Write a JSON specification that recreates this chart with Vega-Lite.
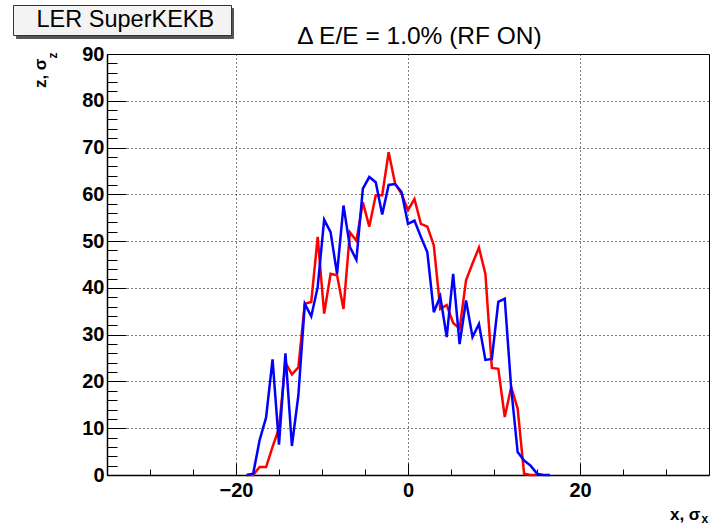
{
  "$schema": "https://vega.github.io/schema/vega-lite/v6.json",
  "width": 602,
  "height": 421,
  "autosize": {"type": "none"},
  "padding": {"left": 107, "top": 54, "right": 1, "bottom": 48},
  "background": "white",
  "config": {
    "font": "Liberation Sans",
    "view": {"stroke": "#000", "strokeWidth": 1},
    "axis": {
      "labelFont": "Liberation Sans",
      "titleFont": "Liberation Sans",
      "labelColor": "#000",
      "titleColor": "#000",
      "domainColor": "#000",
      "tickColor": "#000"
    }
  },
  "datasets": {
    "profile": [
      {"set": "A", "x": -18.75, "z": 0},
      {"set": "A", "x": -18.0, "z": 0},
      {"set": "A", "x": -17.25, "z": 1.7},
      {"set": "A", "x": -16.5, "z": 1.7},
      {"set": "A", "x": -15.75, "z": 6},
      {"set": "A", "x": -15.0, "z": 10},
      {"set": "A", "x": -14.25, "z": 24},
      {"set": "A", "x": -13.5, "z": 21.5},
      {"set": "A", "x": -12.75, "z": 23},
      {"set": "A", "x": -12.0, "z": 36.6},
      {"set": "A", "x": -11.25, "z": 37},
      {"set": "A", "x": -10.5, "z": 50.9},
      {"set": "A", "x": -9.75, "z": 34.5},
      {"set": "A", "x": -9.0, "z": 43},
      {"set": "A", "x": -8.25, "z": 42.7},
      {"set": "A", "x": -7.5, "z": 35.5},
      {"set": "A", "x": -6.75, "z": 51.9},
      {"set": "A", "x": -6.0, "z": 50.1},
      {"set": "A", "x": -5.25, "z": 58.3},
      {"set": "A", "x": -4.5, "z": 53.1},
      {"set": "A", "x": -3.75, "z": 59.8},
      {"set": "A", "x": -3.0, "z": 59.8},
      {"set": "A", "x": -2.25, "z": 69},
      {"set": "A", "x": -1.5, "z": 62.3},
      {"set": "A", "x": -0.75, "z": 60.1},
      {"set": "A", "x": 0.0, "z": 56.6},
      {"set": "A", "x": 0.75, "z": 59},
      {"set": "A", "x": 1.5, "z": 53.7},
      {"set": "A", "x": 2.25, "z": 53.1},
      {"set": "A", "x": 3.0, "z": 49.1},
      {"set": "A", "x": 3.75, "z": 35.5},
      {"set": "A", "x": 4.5, "z": 36.3},
      {"set": "A", "x": 5.25, "z": 32.5},
      {"set": "A", "x": 6.0, "z": 31.3},
      {"set": "A", "x": 6.75, "z": 41.6},
      {"set": "A", "x": 7.5, "z": 45.2},
      {"set": "A", "x": 8.25, "z": 48.6},
      {"set": "A", "x": 9.0, "z": 43},
      {"set": "A", "x": 9.75, "z": 22.9},
      {"set": "A", "x": 10.5, "z": 22.7},
      {"set": "A", "x": 11.25, "z": 12.4},
      {"set": "A", "x": 12.0, "z": 18.8},
      {"set": "A", "x": 12.75, "z": 14.2},
      {"set": "A", "x": 13.5, "z": 0.3},
      {"set": "A", "x": 14.25, "z": 0},
      {"set": "A", "x": 15.0, "z": 0},
      {"set": "B", "x": -18.75, "z": 0},
      {"set": "B", "x": -18.0, "z": 0.3},
      {"set": "B", "x": -17.25, "z": 7.5},
      {"set": "B", "x": -16.5, "z": 12.3},
      {"set": "B", "x": -15.75, "z": 24.7},
      {"set": "B", "x": -15.0, "z": 6.5},
      {"set": "B", "x": -14.25, "z": 26},
      {"set": "B", "x": -13.5, "z": 6.2},
      {"set": "B", "x": -12.75, "z": 17},
      {"set": "B", "x": -12.0, "z": 36.6},
      {"set": "B", "x": -11.25, "z": 33.9},
      {"set": "B", "x": -10.5, "z": 40.2},
      {"set": "B", "x": -9.75, "z": 54.6},
      {"set": "B", "x": -9.0, "z": 51.9},
      {"set": "B", "x": -8.25, "z": 43},
      {"set": "B", "x": -7.5, "z": 57.6},
      {"set": "B", "x": -6.75, "z": 48.7},
      {"set": "B", "x": -6.0, "z": 46},
      {"set": "B", "x": -5.25, "z": 61.2},
      {"set": "B", "x": -4.5, "z": 63.7},
      {"set": "B", "x": -3.75, "z": 62.6},
      {"set": "B", "x": -3.0, "z": 55.7},
      {"set": "B", "x": -2.25, "z": 62},
      {"set": "B", "x": -1.5, "z": 62.2},
      {"set": "B", "x": -0.75, "z": 60.5},
      {"set": "B", "x": 0.0, "z": 53.7},
      {"set": "B", "x": 0.75, "z": 54.4},
      {"set": "B", "x": 1.5, "z": 50.9},
      {"set": "B", "x": 2.25, "z": 47.6},
      {"set": "B", "x": 3.0, "z": 34.8},
      {"set": "B", "x": 3.75, "z": 38.2},
      {"set": "B", "x": 4.5, "z": 29.5},
      {"set": "B", "x": 5.25, "z": 43},
      {"set": "B", "x": 6.0, "z": 28},
      {"set": "B", "x": 6.75, "z": 37.3},
      {"set": "B", "x": 7.5, "z": 29.5},
      {"set": "B", "x": 8.25, "z": 32.3},
      {"set": "B", "x": 9.0, "z": 24.6},
      {"set": "B", "x": 9.75, "z": 24.8},
      {"set": "B", "x": 10.5, "z": 37},
      {"set": "B", "x": 11.25, "z": 37.7},
      {"set": "B", "x": 12.0, "z": 18.5},
      {"set": "B", "x": 12.75, "z": 4.9},
      {"set": "B", "x": 13.5, "z": 3.1},
      {"set": "B", "x": 14.25, "z": 2},
      {"set": "B", "x": 15.0, "z": 0.3},
      {"set": "B", "x": 15.75, "z": 0},
      {"set": "B", "x": 16.5, "z": 0}
    ]
  },
  "data": {"name": "profile"},
  "layer": [
    {
      "mark": {"type": "line", "strokeWidth": 2.5},
      "encoding": {
        "x": {
          "field": "x", "type": "quantitative",
          "scale": {"domain": [-35, 35], "nice": false, "zero": false},
          "axis": {
            "orient": "bottom", "values": [-20, 0, 20], "ticks": false,
            "domain": true, "domainWidth": 1.5,
            "grid": true, "gridColor": "#000", "gridOpacity": 1, "gridDash": [1, 3], "gridWidth": 1,
            "labelFontSize": 20, "labelFontWeight": "bold", "labelPadding": 5,
            "title": "x, σ", "titleFontSize": 17, "titleFontWeight": "bold",
            "titleAngle": 0, "titleAlign": "right", "titleBaseline": "alphabetic",
            "titleX": 593, "titleY": 44
          }
        },
        "y": {
          "field": "z", "type": "quantitative",
          "scale": {"domain": [0, 90], "nice": false, "zero": true},
          "axis": {
            "orient": "left", "values": [0, 10, 20, 30, 40, 50, 60, 70, 80, 90], "ticks": false,
            "domain": true, "domainWidth": 1.5,
            "grid": true, "gridColor": "#000", "gridOpacity": 1, "gridDash": [1, 3], "gridWidth": 1,
            "labelFontSize": 20, "labelFontWeight": "bold", "labelPadding": 3,
            "title": "z, σ", "titleFontSize": 17, "titleFontWeight": "bold",
            "titleAngle": 270, "titleAlign": "right", "titleBaseline": "alphabetic",
            "titleX": -62, "titleY": 4
          }
        },
        "color": {
          "field": "set", "type": "nominal",
          "scale": {"domain": ["A", "B"], "range": ["#ff0000", "#0000ff"]},
          "legend": null
        }
      }
    },
    {
      "mark": {"type": "point", "opacity": 0},
      "encoding": {
        "x": {
          "field": "x", "type": "quantitative",
          "axis": {
            "orient": "bottom", "values": [-30, -25, -20, -15, -10, -5, 0, 5, 10, 15, 20, 25, 30],
            "ticks": true, "tickSize": -6, "tickWidth": 1,
            "labels": false, "domain": false, "grid": false,
            "title": "x", "titleFontSize": 12, "titleFontWeight": "bold",
            "titleAngle": 0, "titleAlign": "left", "titleBaseline": "alphabetic",
            "titleX": 594, "titleY": 47
          }
        },
        "y": {
          "field": "z", "type": "quantitative",
          "axis": {
            "orient": "left",
            "values": [2, 4, 6, 8, 12, 14, 16, 18, 22, 24, 26, 28, 32, 34, 36, 38, 42, 44, 46, 48, 52, 54, 56, 58, 62, 64, 66, 68, 72, 74, 76, 78, 82, 84, 86, 88],
            "ticks": true, "tickSize": -10, "tickWidth": 1,
            "labels": false, "domain": false, "grid": false,
            "title": "z", "titleFontSize": 12, "titleFontWeight": "bold",
            "titleAngle": 270, "titleAlign": "left", "titleBaseline": "alphabetic",
            "titleX": -51, "titleY": 4
          }
        },
        "shape": {
          "datum": "LER SuperKEKB",
          "legend": {
            "orient": "none", "legendX": -94, "legendY": -49,
            "title": ".", "titleOrient": "right", "titleOpacity": 0, "titleFontSize": 6, "titlePadding": 12,
            "fillColor": "#f3f3f3", "strokeColor": "#333",
            "padding": 3, "symbolSize": 0, "symbolOpacity": 0, "symbolStrokeWidth": 0,
            "labelFont": "Liberation Sans", "labelFontSize": 23.5, "labelColor": "#000",
            "labelOffset": -3, "labelLimit": 0, "zindex": 2
          }
        }
      }
    },
    {
      "mark": {"type": "point", "opacity": 0},
      "encoding": {
        "x": {
          "field": "x", "type": "quantitative",
          "axis": {
            "orient": "bottom", "values": [-20, 0, 20],
            "ticks": true, "tickSize": -12, "tickWidth": 1,
            "labels": false, "domain": false, "grid": false, "title": null
          }
        },
        "y": {
          "field": "z", "type": "quantitative",
          "axis": {
            "orient": "left", "values": [10, 20, 30, 40, 50, 60, 70, 80],
            "ticks": true, "tickSize": -19, "tickWidth": 1,
            "labels": false, "domain": false, "grid": false, "title": null
          }
        },
        "shape": {
          "datum": " ",
          "legend": {
            "orient": "none", "legendX": -91, "legendY": -46, "title": null,
            "fillColor": "#555", "strokeColor": "#555",
            "padding": 3, "symbolSize": 0, "symbolOpacity": 0, "symbolStrokeWidth": 0,
            "labelFont": "Liberation Sans", "labelFontSize": 23.5, "labelOpacity": 0,
            "labelOffset": 187, "labelLimit": 0, "zindex": 1
          }
        }
      }
    },
    {
      "mark": {"type": "point", "opacity": 0},
      "encoding": {
        "x": {
          "field": "x", "type": "quantitative",
          "axis": {
            "orient": "top", "values": [], "ticks": false, "labels": false, "domain": false, "grid": false,
            "title": "Δ E/E = 1.0% (RF ON)", "titleFontSize": 24.5, "titleFontWeight": "normal",
            "titleAngle": 0, "titleAlign": "center", "titleBaseline": "alphabetic",
            "titleX": 312, "titleY": -11
          }
        },
        "y": {"field": "z", "type": "quantitative", "axis": null}
      }
    }
  ],
  "resolve": {
    "axis": {"x": "independent", "y": "independent"},
    "scale": {"shape": "independent"},
    "legend": {"shape": "independent"}
  }
}
